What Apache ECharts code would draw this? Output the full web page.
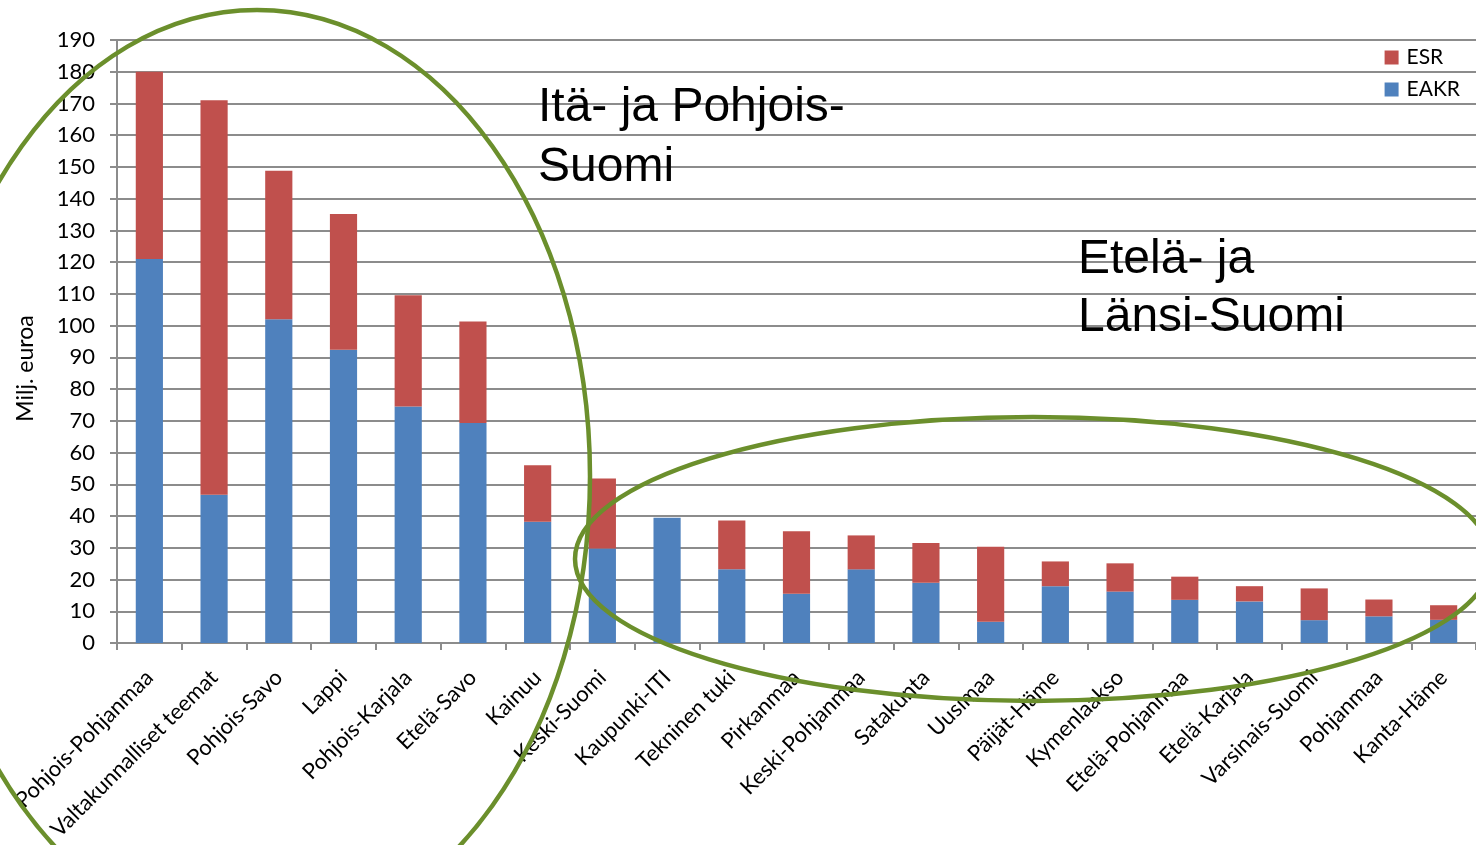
<!DOCTYPE html>
<html>
<head>
<meta charset="utf-8">
<script src="https://cdn.jsdelivr.net/npm/echarts@6/dist/echarts.min.js"></script>
<style>
  html, body { margin: 0; padding: 0; background: #fff; }
  #chart { width: 1476px; height: 845px; }
</style>
</head>
<body>
<div id="chart"></div>
<script>
  // alueet (rakennerahastot), milj. euroa
  const categories = ['Pohjois-Pohjanmaa', 'Valtakunnalliset teemat', 'Pohjois-Savo', 'Lappi',
    'Pohjois-Karjala', 'Etelä-Savo', 'Kainuu', 'Keski-Suomi', 'Kaupunki-ITI', 'Tekninen tuki',
    'Pirkanmaa', 'Keski-Pohjanmaa', 'Satakunta', 'Uusimaa', 'Päijät-Häme', 'Kymenlaakso',
    'Etelä-Pohjanmaa', 'Etelä-Karjala', 'Varsinais-Suomi', 'Pohjanmaa', 'Kanta-Häme'];
  const eakr = [121, 46.7, 102, 92.4, 74.5, 69.3, 38.2, 29.8, 39.5, 23.2, 15.5,
    23.2, 19, 6.7, 17.9, 16.2, 13.6, 13.1, 7.2, 8.4, 7.3];
  const esr = [59, 124.3, 46.8, 42.8, 35.1, 32, 17.8, 22, 0, 15.4, 19.7,
    10.7, 12.5, 23.6, 7.8, 8.9, 7.3, 4.8, 10, 5.3, 4.6];
  const yTicks = { min: 0, max: 190, interval: 10 };

  const font = 'Lato, "Open Sans", sans-serif';
  const green = '#6b8f2c';

  let myChart = echarts.init(document.getElementById('chart'));
  let option = {
    animation: false,
    grid: { left: 117, right: 0, top: 40, bottom: 202 },
    legend: {
      orient: 'vertical',
      right: 11,
      top: 42,
      itemWidth: 14,
      itemHeight: 14,
      itemGap: 11,
      icon: 'rect',
      data: ['ESR', 'EAKR'],
      textStyle: { fontFamily: font, fontSize: 21, color: '#000', padding: [0, 0, 0, 3] }
    },
    xAxis: {
      type: 'category',
      data: categories,
      axisLine: { lineStyle: { color: '#8c8c8c', width: 2 } },
      axisTick: { show: true, length: 7, lineStyle: { color: '#8c8c8c', width: 2 } },
      axisLabel: {
        interval: 0,
        rotate: 45,
        margin: 31,
        fontFamily: font,
        fontSize: 22,
        color: '#000'
      }
    },
    yAxis: {
      type: 'value',
      min: yTicks.min,
      max: yTicks.max,
      interval: yTicks.interval,
      name: 'Milj. euroa',
      nameLocation: 'middle',
      nameRotate: 90,
      nameGap: 80,
      nameTextStyle: { fontFamily: font, fontSize: 23, color: '#000', padding: [0, 54, 0, 0] },
      axisLine: { show: true, lineStyle: { color: '#8c8c8c', width: 2 } },
      axisTick: { show: true, length: 7, lineStyle: { color: '#8c8c8c', width: 2 } },
      axisLabel: { margin: 22, fontFamily: font, fontSize: 22, color: '#000' },
      splitLine: { lineStyle: { color: '#8c8c8c', width: 2 } }
    },
    series: [
      {
        name: 'EAKR',
        type: 'bar',
        stack: 'total',
        barWidth: '42%',
        itemStyle: { color: '#4f81bd' },
        data: eakr
      },
      {
        name: 'ESR',
        type: 'bar',
        stack: 'total',
        barWidth: '42%',
        itemStyle: { color: '#c0504d' },
        data: esr
      }
    ],
    graphic: [
      {
        type: 'ellipse',
        z: 100,
        shape: { cx: 257, cy: 476, rx: 333, ry: 466 },
        style: { fill: 'none', stroke: green, lineWidth: 4.5 }
      },
      {
        type: 'ellipse',
        z: 100,
        shape: { cx: 1033, cy: 559, rx: 458, ry: 142 },
        style: { fill: 'none', stroke: green, lineWidth: 4.5 }
      },
      {
        type: 'text',
        z: 110,
        left: 538,
        top: 78,
        style: {
          text: 'Itä- ja Pohjois-\nSuomi',
          font: '48px "Liberation Sans", Arial, sans-serif',
          lineHeight: 60,
          fill: '#000'
        }
      },
      {
        type: 'text',
        z: 110,
        left: 1078,
        top: 231,
        style: {
          text: 'Etelä- ja\nLänsi-Suomi',
          font: '48px "Liberation Sans", Arial, sans-serif',
          lineHeight: 58,
          fill: '#000'
        }
      }
    ]
  };
  myChart.setOption(option);
</script>
</body>
</html>
